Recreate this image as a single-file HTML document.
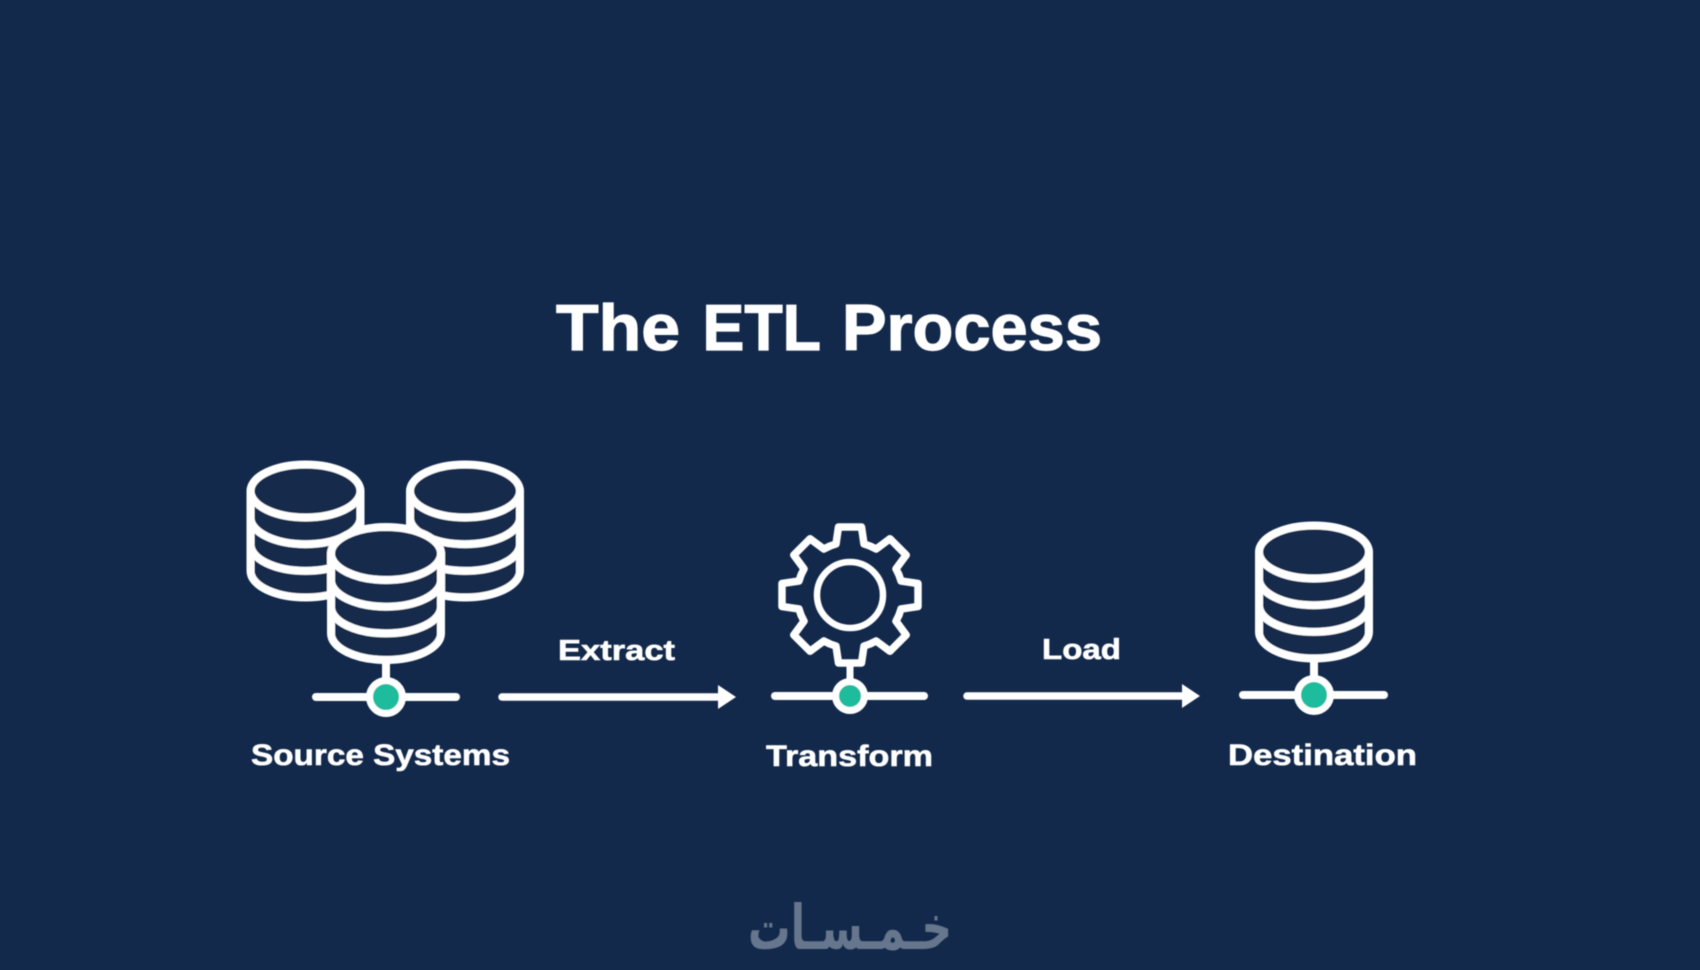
<!DOCTYPE html>
<html lang="en">
<head>
<meta charset="utf-8">
<title>The ETL Process</title>
<style>
html,body{margin:0;padding:0;background:#13294b;width:1700px;height:970px;overflow:hidden}
svg{display:block}
text{font-family:"Liberation Sans","DejaVu Sans",sans-serif;font-weight:700;fill:#fff;stroke:#fff;stroke-width:.6px}
.t{stroke-width:1.2px}
</style>
</head>
<body>
<svg width="1700" height="970" viewBox="0 0 1700 970" xmlns="http://www.w3.org/2000/svg">
<defs>
<filter id="soft" x="-5%" y="-5%" width="110%" height="110%"><feGaussianBlur stdDeviation="0.55"/></filter>
<g id="cyl" fill="#13294b" stroke="#fff" stroke-width="8" stroke-linecap="round" stroke-linejoin="round">
  <path d="M-55 0V80A55 26.5 0 0 0 55 80V0Z"/>
  <ellipse cx="0" cy="0" rx="55" ry="26.5"/>
  <path d="M-55 26.7A55 26.5 0 0 0 55 26.7M-55 53.4A55 26.5 0 0 0 55 53.4" fill="none"/>
</g>
<polyline id="tooth" points="-20,-49 -14,-51 -11.5,-68 11.5,-68 14,-51 20,-49" fill="none" stroke="#fff" stroke-width="7.5" stroke-linejoin="round" stroke-linecap="round"/>
</defs>
<rect width="1700" height="970" fill="#13294b"/>

<g filter="url(#soft)">
<text class="t" x="556" y="350" font-size="65" textLength="124" lengthAdjust="spacingAndGlyphs">The</text>
<text class="t" x="702.5" y="350" font-size="65" textLength="118.5" lengthAdjust="spacingAndGlyphs">ETL</text>
<text class="t" x="842" y="350" font-size="65" textLength="260" lengthAdjust="spacingAndGlyphs">Process</text>

<!-- Source Systems -->
<use href="#cyl" x="305.5" y="491"/>
<use href="#cyl" x="465" y="491"/>
<use href="#cyl" x="386" y="553.5"/>
<path d="M386 662V685" stroke="#fff" stroke-width="8"/>
<path d="M316 697H456" stroke="#fff" stroke-width="8" stroke-linecap="round"/>
<circle cx="386" cy="697" r="16.5" fill="#1abc9c" stroke="#fff" stroke-width="7"/>
<text x="251" y="765" font-size="30" textLength="259" lengthAdjust="spacingAndGlyphs">Source Systems</text>

<!-- Extract arrow -->
<text x="558" y="660" font-size="29" textLength="117" lengthAdjust="spacingAndGlyphs">Extract</text>
<path d="M502 697H722" stroke="#fff" stroke-width="7.5" stroke-linecap="round"/>
<path d="M718 685L736 697L718 709Z" fill="#fff"/>

<!-- Transform -->
<g transform="translate(850 595)">
  <use href="#tooth"/>
  <use href="#tooth" transform="rotate(45)"/>
  <use href="#tooth" transform="rotate(90)"/>
  <use href="#tooth" transform="rotate(135)"/>
  <use href="#tooth" transform="rotate(180)"/>
  <use href="#tooth" transform="rotate(225)"/>
  <use href="#tooth" transform="rotate(270)"/>
  <use href="#tooth" transform="rotate(315)"/>
  <circle r="33" fill="none" stroke="#fff" stroke-width="6.5"/>
</g>
<path d="M850 664V682" stroke="#fff" stroke-width="7"/>
<path d="M775 696H924" stroke="#fff" stroke-width="8" stroke-linecap="round"/>
<circle cx="850" cy="696" r="14.5" fill="#1abc9c" stroke="#fff" stroke-width="7"/>
<text x="766" y="766" font-size="30" textLength="167" lengthAdjust="spacingAndGlyphs">Transform</text>

<!-- Load arrow -->
<text x="1042" y="659" font-size="29" textLength="79" lengthAdjust="spacingAndGlyphs">Load</text>
<path d="M967 696H1186" stroke="#fff" stroke-width="7.5" stroke-linecap="round"/>
<path d="M1182 684L1200 696L1182 708Z" fill="#fff"/>

<!-- Destination -->
<use href="#cyl" x="1314" y="552"/>
<path d="M1314 660V682" stroke="#fff" stroke-width="8"/>
<path d="M1243 695H1384" stroke="#fff" stroke-width="8" stroke-linecap="round"/>
<circle cx="1314" cy="695" r="16.5" fill="#1abc9c" stroke="#fff" stroke-width="7"/>
<text x="1228" y="765" font-size="30" textLength="189" lengthAdjust="spacingAndGlyphs">Destination</text>

<!-- Watermark -->
<text x="952" y="949" direction="rtl" font-size="62" textLength="204" lengthAdjust="spacingAndGlyphs" style="font-family:'DejaVu Sans',sans-serif;font-weight:700;fill:#66768c;stroke:none">خـمـسـات</text>
</g>
</svg>
</body>
</html>
